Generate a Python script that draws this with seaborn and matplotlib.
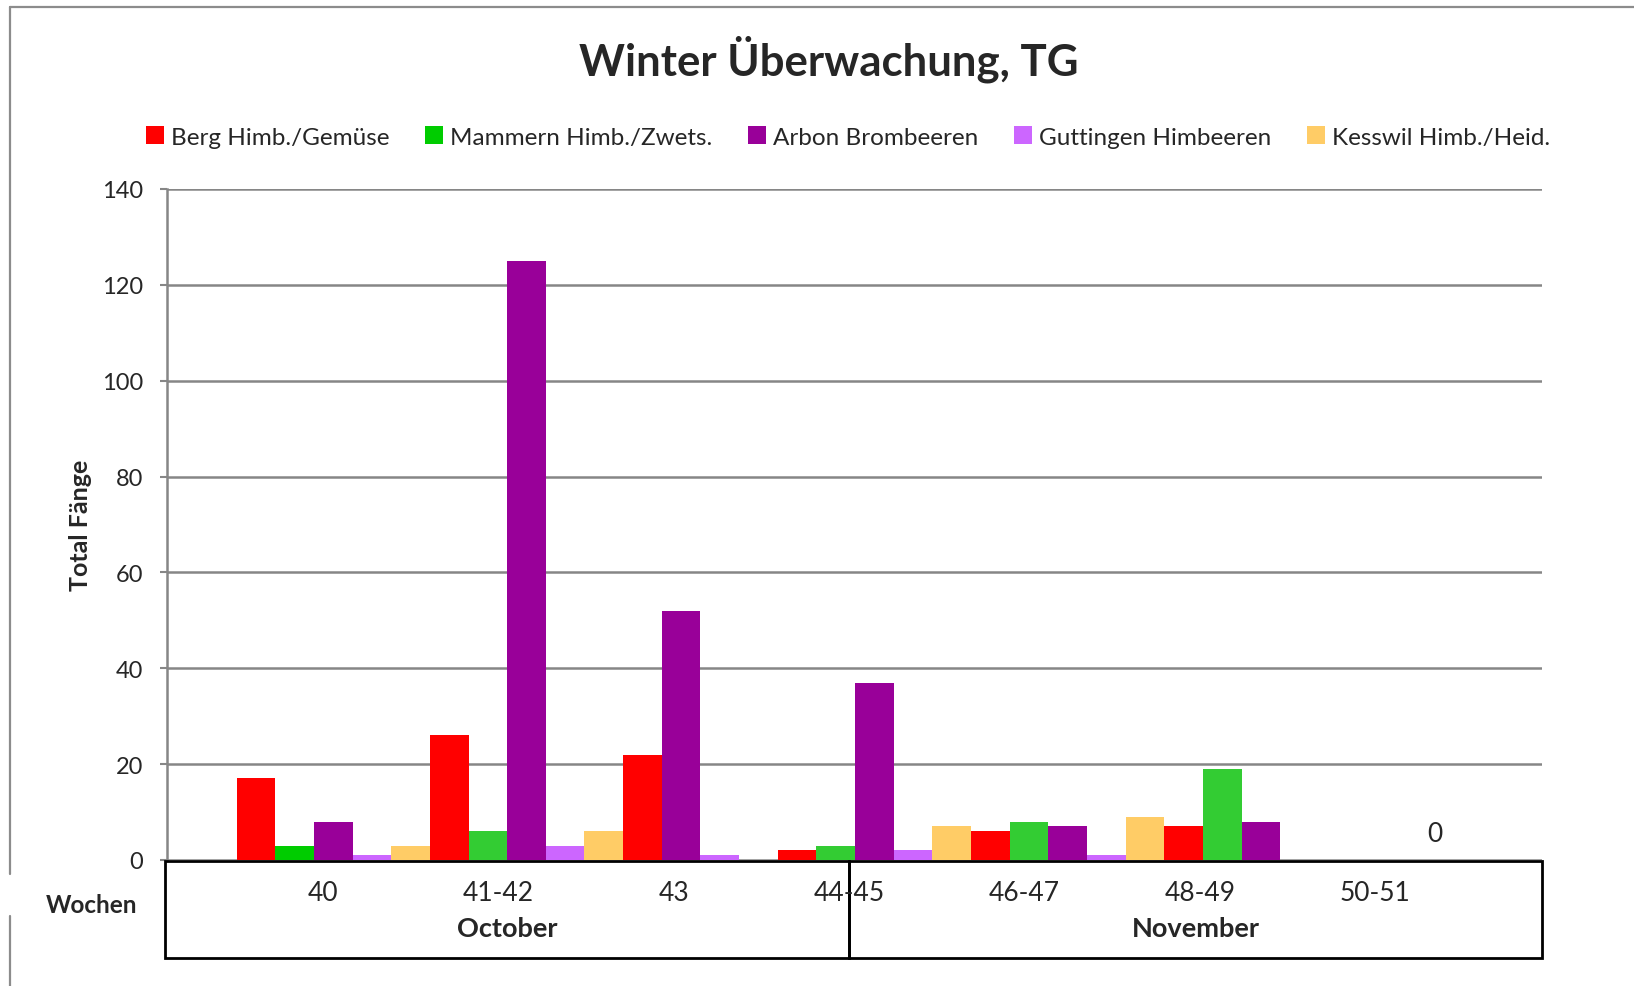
import pandas as pd
import matplotlib.pyplot as plt
import seaborn as sns
from matplotlib.lines import Line2D
from matplotlib.patches import Rectangle

# weeks (category table under the plot) and months spanning them
weeks = ["40", "41-42", "43", "44-45", "46-47", "48-49", "50-51"]
months = ["October", "November"]
month_split = 3  # November box starts under "44-45"

series_names = ["Berg Himb./Gemüse", "Mammern Himb./Zwets.", "Arbon Brombeeren",
                "Guttingen Himbeeren", "Kesswil Himb./Heid."]
berg = [17, 26, 22, 2, 6, 7, 0]
mammern = [3, 6, None, 3, 8, 19, None]
arbon = [8, 125, 52, 37, 7, 8, 0]
guttingen = [1, 3, 1, 2, 1, 0, 0]
kesswil = [3, 6, 0, 7, 9, 0, 0]
colors = ["#FF0000", "#00CC00", "#990099", "#CC66FF", "#FFCC66"]
mammern_later = "#33CC33"

# bars are packed one after another, missing values take no slot
rows = []
slot = 0
for i, wk in enumerate(weeks):
    for name, vals in zip(series_names, [berg, mammern, arbon, guttingen, kesswil]):
        if vals[i] is None:
            continue
        rows.append({"slot": slot, "week": wk, "series": name, "value": vals[i]})
        slot += 1
df = pd.DataFrame(rows)

sns.set_theme(style="white")
plt.rcParams["font.family"] = ["Lato", "DejaVu Sans"]

fig = plt.figure(figsize=(16.34, 9.87), dpi=100)
ax = fig.add_axes([0.1022, 0.1277, 0.8415, 0.6798])

sns.barplot(data=df, x="slot", y="value", hue="series", hue_order=series_names,
            palette=dict(zip(series_names, colors)), native_scale=True, dodge=False,
            width=1.0, saturation=1, errorbar=None, linewidth=0, ax=ax)

for bar in ax.containers[1][1:]:
    bar.set_facecolor(mammern_later)

ax.set_xlim(-2.3, 33.27)
ax.set_ylim(0, 140)
ax.set_yticks(range(0, 141, 20))
ax.set_xticks([])
ax.set_xlabel("")
ax.set_ylabel("Total Fänge", fontsize=18, fontweight="bold")
ax.yaxis.set_label_coords(-0.0545, 0.5)
ax.tick_params(axis="y", labelsize=17, length=5, width=1.5, color="#868686",
               pad=12, left=True)
ax.set_axisbelow(True)
ax.yaxis.grid(True, color="#868686", linewidth=1.8)
for s in ["top", "right", "bottom"]:
    ax.spines[s].set_visible(False)
ax.spines["left"].set_color("#868686")
ax.spines["left"].set_linewidth(1.8)

# total label over the last week's group
last = df[df["week"] == weeks[-1]]
ax.text(last["slot"].mean(), 5.6, f"{last['value'].sum():g}", ha="center",
        va="center", fontsize=19)

# legend across the top
handles, labels = ax.get_legend_handles_labels()
ax.get_legend().remove()
fig.legend(handles, labels, loc="center", bbox_to_anchor=(0.519, 0.860), ncol=5,
           frameon=False, fontsize=17.5, handlelength=0.75, handleheight=0.75,
           handletextpad=0.3, columnspacing=1.45)

fig.text(0.507, 0.940, "Winter Überwachung, TG", ha="center", va="center",
         fontsize=31.5, fontweight="bold")

# category table under the axis
tab = fig.add_axes([0.101, 0.0284, 0.8427, 0.0983])
tab.set_xlim(-0.9, 6.95)
tab.set_ylim(0, 1)
tab.axis("off")
spans = [(-0.9, month_split), (month_split, 6.95)]
for (x0, x1), m in zip(spans, months):
    tab.add_patch(Rectangle((x0, 0), x1 - x0, 1, fill=False, edgecolor="black",
                            linewidth=2, clip_on=False))
    tab.text((x0 + x1) / 2, 0.31, m, ha="center", va="center", fontsize=19.5,
             fontweight="bold")
for i, wk in enumerate(weeks):
    tab.text(i, 0.67, wk, ha="center", va="center", fontsize=19)

fig.text(92 / 1634, 1 - 906 / 987, "Wochen", ha="center", va="center",
         fontsize=17.5, fontweight="bold")

# outer chart frame (partly visible)
frame = dict(color="#8c8c8c", linewidth=1.6, transform=fig.transFigure)
fig.add_artist(Line2D([10 / 1634, 1], [1 - 8 / 987] * 2, **frame))
fig.add_artist(Line2D([10 / 1634] * 2, [1 - 8 / 987, 1 - 875 / 987], **frame))
fig.add_artist(Line2D([10 / 1634] * 2, [1 - 917 / 987, 0], **frame))

fig.savefig("out.png", dpi=100)
